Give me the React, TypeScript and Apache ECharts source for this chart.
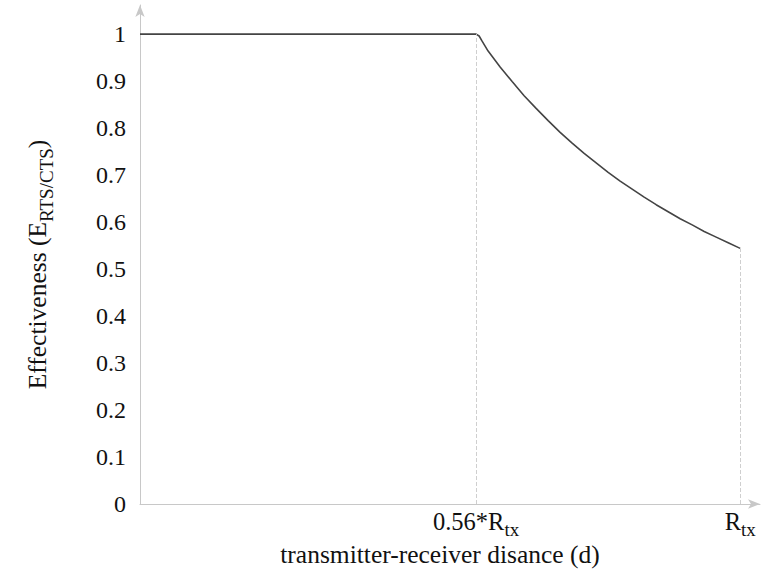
import React, { useEffect, useRef } from "react";
import * as echarts from "echarts";

// Data
const distance = [
  0, 0.56, 0.565, 0.57, 0.58, 0.6, 0.62, 0.64, 0.66, 0.68, 0.7, 0.72, 0.74, 0.76, 0.78, 0.8,
  0.82, 0.84, 0.86, 0.88, 0.9, 0.92, 0.94, 0.96, 0.98, 1.0,
];
const effectiveness = [
  1, 1, 0.996, 0.985, 0.964, 0.93, 0.899, 0.869, 0.842, 0.816, 0.791, 0.768, 0.746, 0.726, 0.706, 0.687,
  0.67, 0.653, 0.637, 0.622, 0.607, 0.594, 0.58, 0.568, 0.556, 0.544,
];
const xMarks = [0.56, 1];
const xMarkMain = ["0.56*R", "R"];
const xMarkSub = ["tx", "tx"];
const yTickValues = [0, 0.1, 0.2, 0.3, 0.4, 0.5, 0.6, 0.7, 0.8, 0.9, 1];
const yTickLabels = ["0", "0.1", "0.2", "0.3", "0.4", "0.5", "0.6", "0.7", "0.8", "0.9", "1"];

const FONT = "Liberation Serif";

export default function App() {
  const ref = useRef<HTMLDivElement>(null);
  useEffect(() => {
    if (!ref.current) return;
    const chart = echarts.init(ref.current, undefined, { renderer: "svg" });
    const pts = distance.map((d, i) => [d, effectiveness[i]]);
    const endY = effectiveness[effectiveness.length - 1];
    const richLabel = {
      a: { fontFamily: FONT, fontSize: 24.5, color: "#111", lineHeight: 28, verticalAlign: "top" },
      s: { fontFamily: FONT, fontSize: 19, color: "#111", lineHeight: 30, verticalAlign: "bottom" },
    };
    const richTitle = {
      a: { fontFamily: FONT, fontSize: 25.5, color: "#111", lineHeight: 29, verticalAlign: "top" },
      s: { fontFamily: FONT, fontSize: 19, color: "#111", lineHeight: 32, verticalAlign: "bottom" },
    };
    chart.setOption({
      animation: false,
      backgroundColor: "#fff",
      grid: { left: 140, right: 3, top: 5, bottom: 66, outerBoundsMode: "none", containLabel: false },
      xAxis: {
        type: "value",
        min: 0,
        max: 1.033,
        interval: 0.04,
        name: "transmitter-receiver disance (d)",
        nameLocation: "middle",
        nameGap: 40,
        nameMoveOverlap: false,
        nameTextStyle: {
          fontFamily: FONT,
          fontSize: 25.5,
          lineHeight: 20,
          color: "#111",
          padding: [0, 20, 0, 0],
        },
        axisLine: {
          lineStyle: { color: "#c8c8c8", width: 1 },
          symbol: ["none", "arrow"],
          symbolSize: [7, 12],
        },
        axisTick: { show: false },
        splitLine: { show: false },
        axisLabel: {
          margin: 5,
          rich: richLabel,
          formatter: (v: number) => {
            for (let i = 0; i < xMarks.length; i++) {
              if (Math.abs(v - xMarks[i]) < 1e-6) return `{a|${xMarkMain[i]}}{s|${xMarkSub[i]}}`;
            }
            return "";
          },
        },
      },
      yAxis: {
        type: "value",
        min: 0,
        max: 1.062,
        interval: 0.1,
        name: "{a|Effectiveness (E}{s|RTS/CTS}{a|)}",
        nameLocation: "middle",
        nameRotate: 90,
        nameGap: 84,
        nameMoveOverlap: false,
        nameTextStyle: { rich: richTitle, padding: [0, 20, 0, 0] },
        axisLine: {
          show: true,
          lineStyle: { color: "#c8c8c8", width: 1 },
          symbol: ["none", "arrow"],
          symbolSize: [7, 12],
        },
        axisTick: { show: false },
        splitLine: { show: false },
        axisLabel: {
          fontFamily: FONT,
          fontSize: 24,
          color: "#111",
          margin: 14,
          formatter: (v: number) => {
            for (let i = 0; i < yTickValues.length; i++) {
              if (Math.abs(v - yTickValues[i]) < 1e-6) return yTickLabels[i];
            }
            return "";
          },
        },
      },
      series: [
        {
          type: "line",
          data: pts,
          symbol: "none",
          smooth: false,
          lineStyle: { color: "#444", width: 1.6 },
          markLine: {
            silent: true,
            symbol: ["none", "none"],
            label: { show: false },
            lineStyle: { type: "dashed", color: "#cfcfcf", width: 1 },
            data: [
              [{ coord: [xMarks[0], 0] }, { coord: [xMarks[0], 1] }],
              [{ coord: [xMarks[1], 0] }, { coord: [xMarks[1], endY] }],
            ],
          },
        },
      ],
    });
    return () => chart.dispose();
  }, []);
  return (
    <div
      ref={ref}
      style={{ position: "absolute", left: 0, top: 0, width: 763, height: 570, background: "#fff" }}
    />
  );
}
